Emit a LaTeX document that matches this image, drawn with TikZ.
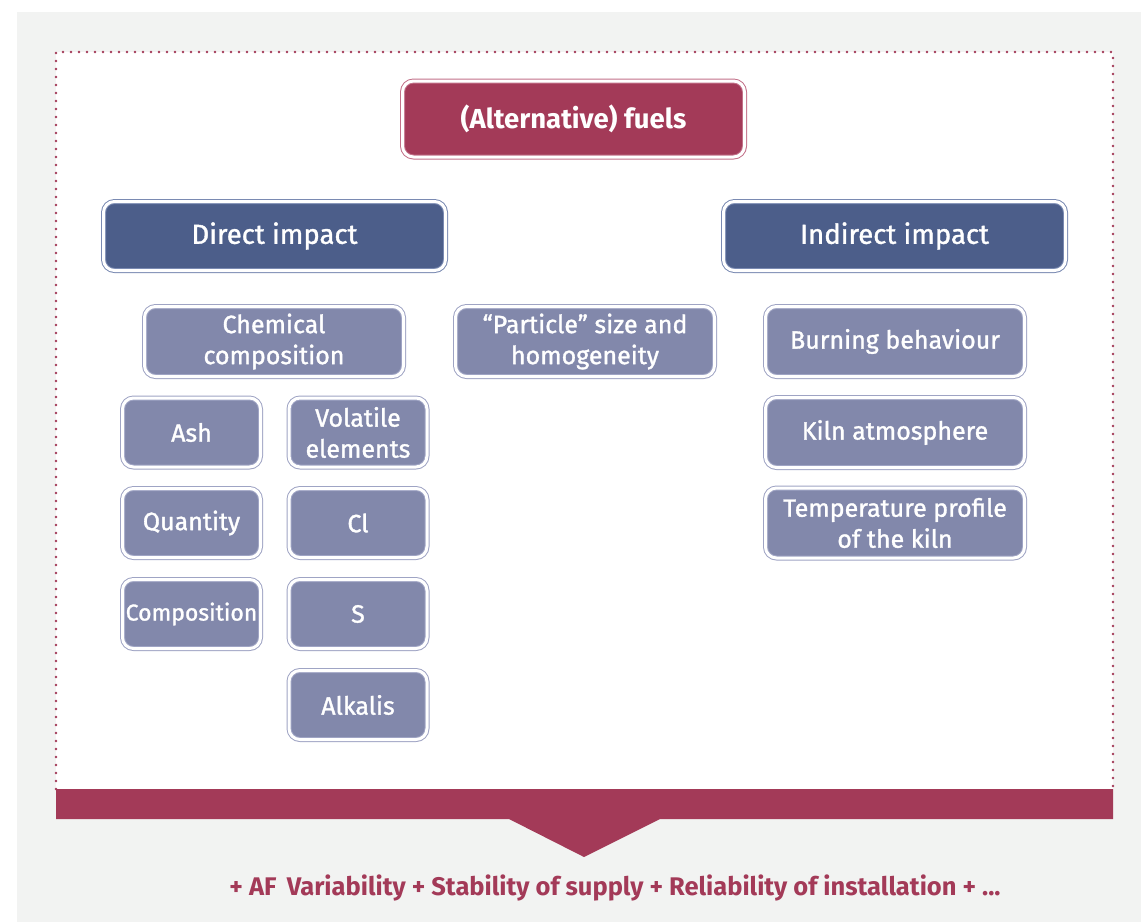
\documentclass[tikz,border=0pt]{standalone}
\usepackage{fontspec}
\setmainfont{Fira Sans}
\newfontfamily\mediumfont{Fira Sans}[FakeBold=1.3]
\usepackage{tikz}
\definecolor{crimson}{HTML}{A33A58}
\definecolor{crimsonline}{HTML}{C27088}
\definecolor{darkblue}{HTML}{4C5E8A}
\definecolor{darkblueline}{HTML}{7A8AB2}
\definecolor{lightblue}{HTML}{8288AB}
\definecolor{lightblueline}{HTML}{9FA4C4}
\definecolor{paper}{HTML}{F2F3F2}
\tikzset{
  framebox/.style={rounded corners=11pt, line width=1pt, double=white, double distance=3pt, text=white, align=center, inner sep=0pt},
  fuelbox/.style={framebox, draw=crimsonline, fill=crimson, font=\fontsize{27.5}{32}\selectfont\bfseries, minimum width=342pt, minimum height=76pt},
  impactbox/.style={framebox, draw=darkblueline, fill=darkblue, font=\mediumfont\fontsize{27.5}{32}\selectfont, minimum width=342pt, minimum height=69pt},
  factorbox/.style={framebox, draw=lightblueline, fill=lightblue, font=\mediumfont\fontsize{25}{31}\selectfont, minimum width=259pt, minimum height=70pt},
  smallbox/.style={framebox, draw=lightblueline, fill=lightblue, font=\mediumfont\fontsize{25}{31}\selectfont, minimum width=138pt, minimum height=69pt}
}
\begin{document}
\begin{tikzpicture}[line cap=round,line join=round,x=1pt,y=-1pt]
\useasboundingbox (0,0) rectangle (1141,922);
% background and frame
\fill [paper] (17,12) rectangle (1141,922);
\fill [white] (56,52) rectangle (1113,789);
\draw [crimson, line width=2.8pt, dash pattern=on 0pt off 8pt] (56,789) -- (56,52) -- (1113,52) -- (1113,789);
\fill [crimson] (56,789) -- (1113,789) -- (1113,819) -- (660,819) -- (584,857) -- (509,819) -- (56,819) -- cycle;
% top
\node [fuelbox] (fuels) at (573.5,119) {(Alternative) fuels};
\node [impactbox] (direct) at (274.5,236) {Direct impact};
\node [impactbox] (indirect) at (894.5,236) {Indirect impact};
% direct impact
\node [factorbox] (chem) at (274,341.5) {Chemical\\composition};
\node [smallbox] (ash) at (191.5,432.5) {Ash};
\node [smallbox] (volatile) at (358,432.5) {Volatile\\elements};
\node [smallbox] (quantity) at (191.5,523) {Quantity};
\node [smallbox] (cl) at (358,523) {Cl};
\node [smallbox, font=\mediumfont\fontsize{23}{31}\selectfont] (composition) at (191.5,614) {Composition};
\node [smallbox] (s) at (358,614) {S};
\node [smallbox] (alkalis) at (358,705) {Alkalis};
% middle
\node [factorbox] (particle) at (585,341.5) {“Particle” size and\\homogeneity};
% indirect impact
\node [factorbox] (burning) at (895,341.5) {Burning behaviour};
\node [factorbox] (atmosphere) at (895,432.5) {Kiln atmosphere};
\node [factorbox] (temperature) at (895,523) {Temperature profile\\of the kiln};
% bottom line
\node [crimson, font=\fontsize{25.5}{30}\selectfont\bfseries] (extras) at (615,888) {+ AF\, Variability + Stability of supply + Reliability of installation + ...};
\end{tikzpicture}
\end{document}
